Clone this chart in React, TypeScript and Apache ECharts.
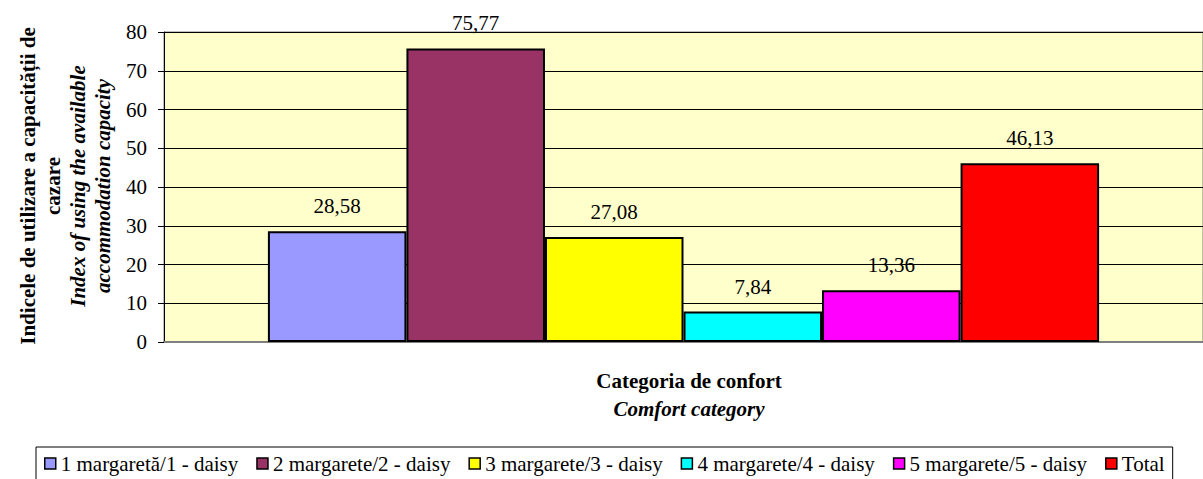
import React, { useEffect, useRef } from "react";
import * as echarts from "echarts";

const seriesNames = [
  "1 margaretă/1 - daisy",
  "2 margarete/2 - daisy",
  "3 margarete/3 - daisy",
  "4 margarete/4 - daisy",
  "5 margarete/5 - daisy",
  "Total",
];
const seriesValues = [28.58, 75.77, 27.08, 7.84, 13.36, 46.13];
const seriesColors = ["#9999FF", "#993366", "#FFFF00", "#00FFFF", "#FF00FF", "#FF0000"];
const categories = [""];
const yMin = 0;
const yMax = 80;
const yInterval = 10;

const FONT = "Liberation Serif";
const FS = 21;

export default function App() {
  const ref = useRef<HTMLDivElement>(null);
  useEffect(() => {
    document.body.style.margin = "0";
    const chart = echarts.init(ref.current!, null, { renderer: "svg" });
    chart.setOption({
      animation: false,
      textStyle: { fontFamily: FONT },
      grid: {
        left: 164,
        top: 32,
        right: -11,
        bottom: 137,
        show: true,
        backgroundColor: "#FFFFCC",
        borderColor: "#808080",
        borderWidth: 1,
      },
      legend: {
        left: 36,
        top: 447,
        padding: [6, 8, 10, 8],
        borderColor: "#000",
        borderWidth: 1,
        itemWidth: 11,
        itemHeight: 11,
        itemGap: 18,
        icon: "rect",
        itemStyle: { borderColor: "#000", borderWidth: 1.5 },
        textStyle: { fontFamily: FONT, fontSize: FS, color: "#000" },
        data: seriesNames,
      },
      xAxis: {
        type: "category",
        data: categories,
        axisLine: { lineStyle: { color: "#808080", width: 2 } },
        axisTick: { show: false },
        axisLabel: { show: false },
      },
      yAxis: {
        type: "value",
        min: yMin,
        max: yMax,
        interval: yInterval,
        axisLine: { show: true, lineStyle: { color: "#000", width: 1 } },
        axisTick: { show: true, length: 6, lineStyle: { color: "#000" } },
        axisLabel: { margin: 17, fontFamily: FONT, fontSize: FS, color: "#000" },
        splitLine: { show: true, lineStyle: { color: "#000", width: 1 } },
      },
      series: seriesNames.map((name, i) => ({
        type: "bar",
        name,
        data: [seriesValues[i]],
        barGap: "0%",
        barCategoryGap: "20%",
        itemStyle: { color: seriesColors[i], borderColor: "#000", borderWidth: 2 },
        label: {
          show: true,
          position: "top",
          distance: 15,
          fontFamily: FONT,
          fontSize: FS,
          lineHeight: 20,
          color: "#000",
          formatter: (p: any) => Number(p.value).toFixed(2).replace(".", ","),
        },
      })),
      graphic: [
        {
          type: "text",
          x: 65,
          y: 186,
          rotation: Math.PI / 2,
          style: {
            text:
              "{b|Indicele de utilizare a capacității de}\n{b|cazare}\n{i|Index of using the available}\n{i|accommodation capacity}",
            align: "center",
            verticalAlign: "middle",
            fill: "#000",
            rich: {
              b: { fontFamily: FONT, fontSize: FS, fontWeight: "bold", lineHeight: 25, align: "center" },
              i: {
                fontFamily: FONT,
                fontSize: FS,
                fontWeight: "bold",
                fontStyle: "italic",
                lineHeight: 25,
                align: "center",
              },
            },
          },
        },
        {
          type: "text",
          x: 689,
          y: 395,
          style: {
            text: "{b|Categoria de confort}\n{i|Comfort category}",
            align: "center",
            verticalAlign: "middle",
            fill: "#000",
            rich: {
              b: { fontFamily: FONT, fontSize: FS, fontWeight: "bold", lineHeight: 28, align: "center" },
              i: {
                fontFamily: FONT,
                fontSize: FS,
                fontWeight: "bold",
                fontStyle: "italic",
                lineHeight: 28,
                align: "center",
              },
            },
          },
        },
      ],
    });
    return () => chart.dispose();
  }, []);
  return <div ref={ref} style={{ width: 1203, height: 479 }} />;
}
